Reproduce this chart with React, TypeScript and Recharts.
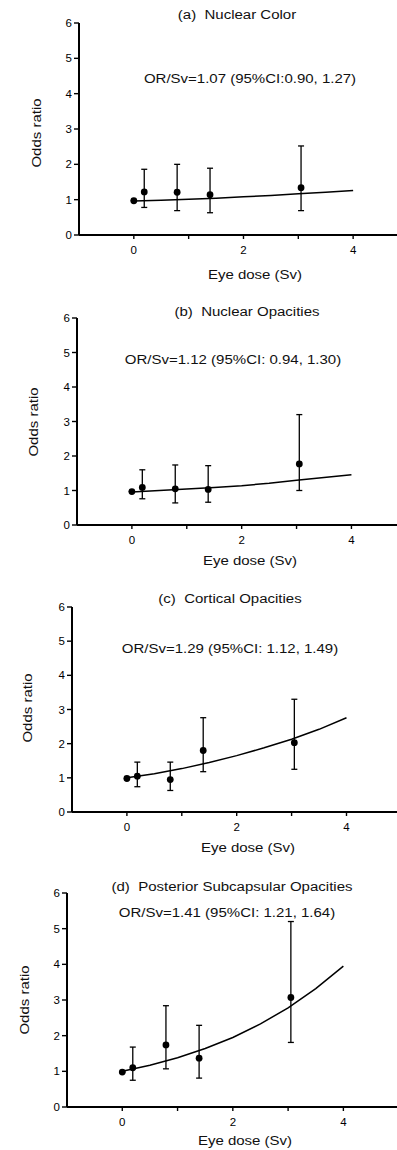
import React from 'react';
import { ScatterChart, Scatter, XAxis, YAxis, ErrorBar } from 'recharts';

// ---- Data ----
const DOSE = [0, 0.19, 0.79, 1.39, 3.05];
const FIT_DOSE = [0, 0.5, 1, 1.5, 2, 2.5, 3, 3.5, 4];
const X_TICKS = [0, 1, 2, 3, 4];
const X_TICK_LABELS = ['0', '', '2', '', '4'];
const Y_TICKS = [0, 1, 2, 3, 4, 5, 6];

const A_OR = [0.97, 1.22, 1.21, 1.14, 1.34];
const A_LOW = [0.97, 0.78, 0.69, 0.63, 0.69];
const A_HIGH = [0.97, 1.86, 2.0, 1.89, 2.52];
const A_FIT = [0.96, 0.98, 1.01, 1.04, 1.08, 1.12, 1.17, 1.21, 1.26];

const B_OR = [0.97, 1.09, 1.05, 1.03, 1.77];
const B_LOW = [0.97, 0.76, 0.64, 0.66, 1.0];
const B_HIGH = [0.97, 1.6, 1.74, 1.72, 3.2];
const B_FIT = [0.96, 1.0, 1.04, 1.09, 1.14, 1.21, 1.3, 1.38, 1.46];

const C_OR = [0.98, 1.05, 0.95, 1.8, 2.03];
const C_LOW = [0.98, 0.74, 0.63, 1.18, 1.25];
const C_HIGH = [0.98, 1.46, 1.46, 2.76, 3.3];
const C_FIT = [1.0, 1.12, 1.27, 1.45, 1.65, 1.88, 2.13, 2.42, 2.76];

const D_OR = [0.98, 1.1, 1.74, 1.37, 3.07];
const D_LOW = [0.98, 0.75, 1.07, 0.81, 1.81];
const D_HIGH = [0.98, 1.68, 2.84, 2.29, 5.2];
const D_FIT = [1.0, 1.17, 1.38, 1.64, 1.95, 2.33, 2.78, 3.32, 3.95];

const TITLES = [
  '(a)  Nuclear Color',
  '(b)  Nuclear Opacities',
  '(c)  Cortical Opacities',
  '(d)  Posterior Subcapsular Opacities',
];
const ANNOTATIONS = [
  'OR/Sv=1.07 (95%CI:0.90, 1.27)',
  'OR/Sv=1.12 (95%CI: 0.94, 1.30)',
  'OR/Sv=1.29 (95%CI: 1.12, 1.49)',
  'OR/Sv=1.41 (95%CI: 1.21, 1.64)',
];
const X_LABEL = 'Eye dose (Sv)';
const Y_LABEL = 'Odds ratio';

// ---- Layout ----
const FONT = '"Liberation Sans", Arial, Helvetica, sans-serif';
const W = 397;

type Layout = {
  plotTop: number;
  plotBottom: number;
  axisX: number;
  xMax: number;
  title: [number, number];
  annot: [number, number];
  xLabel: [number, number];
  yLabel: [number, number];
};

const LAYOUTS: Layout[] = [
  { plotTop: 23, plotBottom: 235, axisX: 79, xMax: 4.8, title: [237, 15], annot: [250, 79], xLabel: [255, 275], yLabel: [37, 133] },
  { plotTop: 318, plotBottom: 525, axisX: 77, xMax: 4.83, title: [247, 312], annot: [233, 360], xLabel: [250, 561], yLabel: [34, 422] },
  { plotTop: 607, plotBottom: 812, axisX: 72, xMax: 4.92, title: [230, 599], annot: [230, 649], xLabel: [248, 848], yLabel: [28, 708] },
  { plotTop: 893, plotBottom: 1107, axisX: 67, xMax: 4.97, title: [232, 887], annot: [227, 913], xLabel: [245, 1141], yLabel: [25, 1000] },
];

const SERIES = [
  { or: A_OR, low: A_LOW, high: A_HIGH, fit: A_FIT },
  { or: B_OR, low: B_LOW, high: B_HIGH, fit: B_FIT },
  { or: C_OR, low: C_LOW, high: C_HIGH, fit: C_FIT },
  { or: D_OR, low: D_LOW, high: D_HIGH, fit: D_FIT },
];

const textStyle = (cx: number, cy: number, rotate = false): React.CSSProperties => ({
  position: 'absolute',
  left: cx,
  top: cy,
  fontFamily: FONT,
  fontSize: 12,
  lineHeight: '12px',
  color: '#111',
  whiteSpace: 'pre',
  transform: `translate(-50%, -50%)${rotate ? ' rotate(-90deg)' : ''} scaleX(1.25)`,
});

const tickStyle = { fontSize: 11.5, fill: '#000', fontFamily: FONT };

const Dot = (p: any) => <circle cx={p.cx} cy={p.cy} r={3.4} fill="#000" />;
const NoDot = () => <g />;

function Panel({ idx }: { idx: number }) {
  const L = LAYOUTS[idx];
  const S = SERIES[idx];
  const points = DOSE.map((x, i) => ({
    x,
    y: S.or[i],
    err: [S.or[i] - S.low[i], S.high[i] - S.or[i]],
  }));
  const fit = FIT_DOSE.map((x, i) => ({ x, y: S.fit[i] }));
  const marginTop = 10;
  const xAxisH = 30;
  const H = marginTop + (L.plotBottom - L.plotTop) + xAxisH;
  return (
    <>
      <div style={{ position: 'absolute', left: 0, top: L.plotTop - marginTop, width: W, height: H }}>
        <ScatterChart width={W} height={H} margin={{ top: marginTop, right: 0, bottom: 0, left: 0 }}>
          <XAxis
            type="number"
            dataKey="x"
            domain={[-1, L.xMax]}
            ticks={X_TICKS}
            tickFormatter={(v: number) => X_TICK_LABELS[X_TICKS.indexOf(v)] ?? ''}
            allowDataOverflow
            height={xAxisH}
            axisLine={{ stroke: '#000', strokeWidth: 1.8 }}
            tickLine={{ stroke: '#000', strokeWidth: 1.4 }}
            tickSize={4}
            tickMargin={7}
            tick={tickStyle}
          />
          <YAxis
            type="number"
            dataKey="y"
            domain={[0, 6]}
            ticks={Y_TICKS}
            allowDataOverflow
            width={L.axisX}
            axisLine={{ stroke: '#000', strokeWidth: 2 }}
            tickLine={{ stroke: '#000', strokeWidth: 1.4 }}
            tickSize={5}
            tickMargin={2}
            tick={tickStyle}
          />
          <Scatter
            data={fit}
            line={{ stroke: '#000', strokeWidth: 1.5 }}
            shape={NoDot}
            isAnimationActive={false}
          />
          <Scatter data={points} shape={Dot} fill="#000" isAnimationActive={false}>
            <ErrorBar dataKey="err" direction="y" width={3} stroke="#000" strokeWidth={1.3} isAnimationActive={false} />
          </Scatter>
        </ScatterChart>
      </div>
      <div style={textStyle(L.title[0], L.title[1])}>{TITLES[idx]}</div>
      <div style={textStyle(L.annot[0], L.annot[1])}>{ANNOTATIONS[idx]}</div>
      <div style={textStyle(L.xLabel[0], L.xLabel[1])}>{X_LABEL}</div>
      <div style={textStyle(L.yLabel[0], L.yLabel[1], true)}>{Y_LABEL}</div>
    </>
  );
}

export default function App() {
  return (
    <div style={{ position: 'absolute', left: 0, top: 0, width: W, height: 1150, background: '#fff', overflow: 'hidden' }}>
      {[0, 1, 2, 3].map((i) => (
        <Panel key={i} idx={i} />
      ))}
    </div>
  );
}
